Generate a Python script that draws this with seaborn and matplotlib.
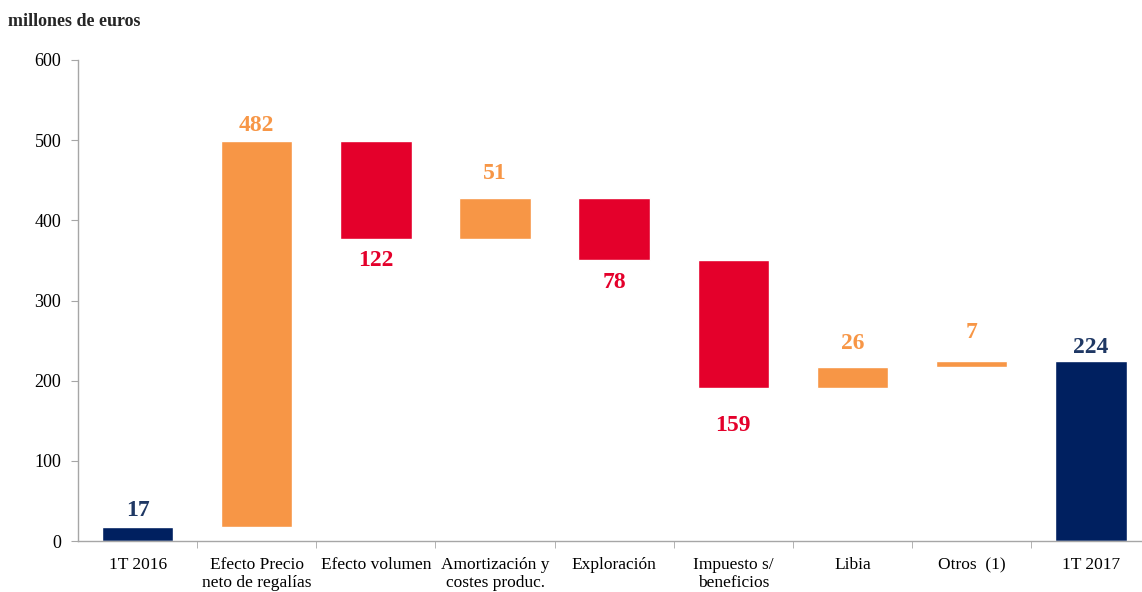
import matplotlib
matplotlib.use("Agg")
import matplotlib.pyplot as plt
import seaborn as sns
import pandas as pd
import numpy as np

categories = ["1T 2016", "Efecto Precio\nneto de regalías", "Efecto volumen",
              "Amortización y\ncostes produc.", "Exploración", "Impuesto s/\nbeneficios",
              "Libia", "Otros  (1)", "1T 2017"]
changes = [17, 482, -122, 51, -78, -159, 26, 7, 224]
kinds = ["total", "up", "down", "up", "down", "down", "up", "up", "total"]

bar_colors = {"total": "#002060", "up": "#F79646", "down": "#E4002B"}
label_colors = {"total": "#1F3864", "up": "#F79646", "down": "#E4002B"}
# distance (px) between bar edge and label centre, as in the original
label_gap = [19, 18, 19, 27, 20, 35, 26, 31, 16]

# waterfall bases
bases, tops = [], []
running = 0
for c, k in zip(changes, kinds):
    if k == "total":
        bases.append(0)
        tops.append(c)
        running = c
    else:
        new = running + c
        bases.append(min(running, new))
        tops.append(max(running, new))
        running = new

df = pd.DataFrame({"cat": categories, "top": tops, "base": bases, "kind": kinds})

sns.set_style("white")
plt.rcParams["font.family"] = ["Liberation Serif", "DejaVu Serif"]

fig = plt.figure(figsize=(11.42, 5.92), dpi=100)
ax = fig.add_axes([78 / 1142, 51 / 592, 1 - 78 / 1142, 481 / 592])

palette = {cat: bar_colors[k] for cat, k in zip(categories, kinds)}
sns.barplot(data=df, x="cat", y="top", hue="cat", palette=palette, order=categories,
            hue_order=categories, legend=False, width=0.6, saturation=1, ax=ax)

# turn the bars into floating waterfall segments
for cont, b, t in zip(ax.containers, bases, tops):
    for p in cont:
        p.set_y(b)
        p.set_height(t - b)

px = 72 / fig.dpi
for i, (c, k, b, t) in enumerate(zip(changes, kinds, bases, tops)):
    txt = str(abs(c))
    if k == "down":
        y, dy = b, -label_gap[i]
    else:
        y, dy = t, label_gap[i]
    ax.annotate(txt, (i, y), xytext=(0, dy * px), textcoords="offset points",
                ha="center", va="center_baseline", fontsize=17, fontweight="bold",
                color=label_colors[k])

ax.set_ylim(0, 600)
ax.set_xlim(-0.5, 8.43)
ax.set_yticks(range(0, 601, 100))
ax.set_xlabel("")
ax.set_ylabel("")

for s in ["top", "right"]:
    ax.spines[s].set_visible(False)
for s in ["left", "bottom"]:
    ax.spines[s].set_color("#A6A6A6")
    ax.spines[s].set_linewidth(1)

ax.tick_params(axis="y", left=True, length=5, color="#A6A6A6", labelsize=13,
               labelcolor="black", pad=7)
ax.tick_params(axis="x", which="major", bottom=False, labelsize=12.5, labelcolor="black", pad=8)
for lbl in ax.get_xticklabels():
    lbl.set_linespacing(1.15)
ax.set_xticks(np.arange(0.5, 8.0, 1), minor=True)
ax.tick_params(axis="x", which="minor", bottom=True, length=5, color="#A6A6A6")

fig.text(8 / 1142, 1 - 22 / 592, "millones de euros", fontsize=13, fontweight="bold",
         va="center", ha="left")

fig.savefig("out.png", dpi=100)
